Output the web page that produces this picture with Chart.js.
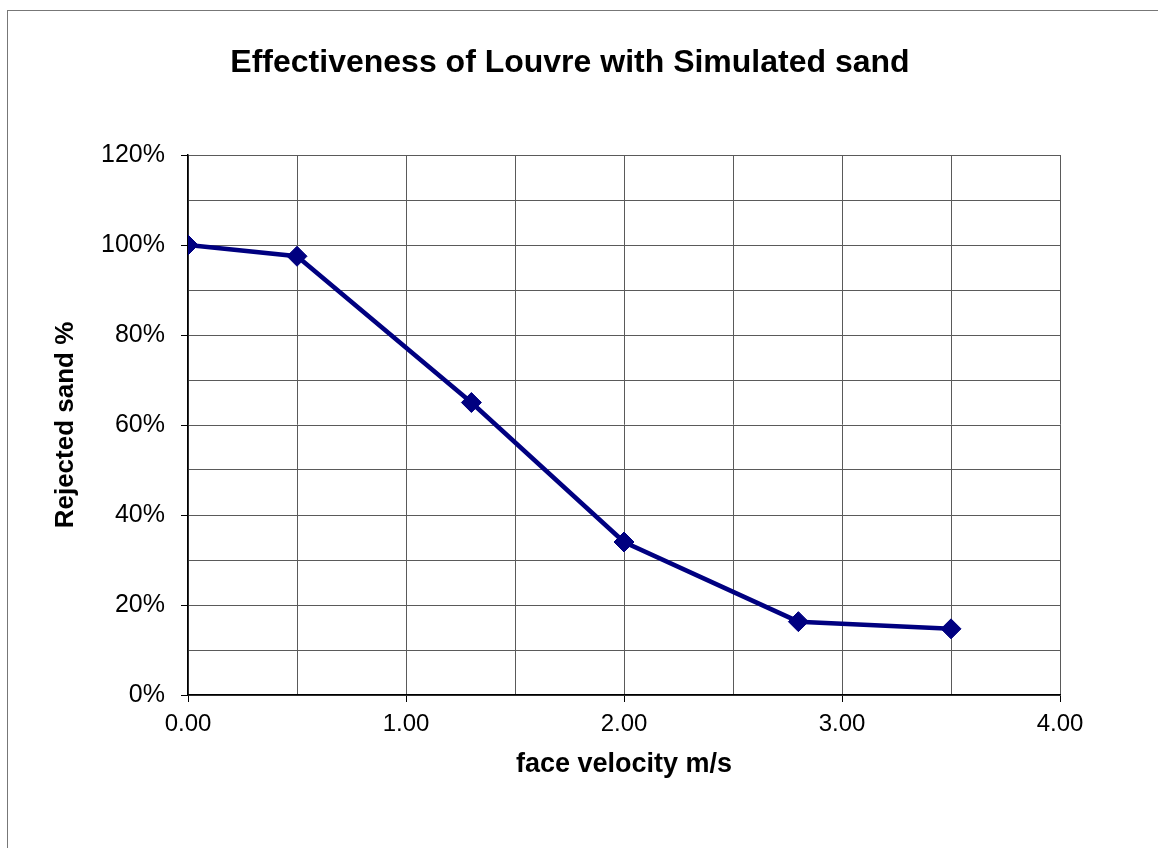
<!DOCTYPE html>
<html>
<head>
<meta charset="utf-8">
<title>Effectiveness of Louvre with Simulated sand</title>
<script src="https://cdn.jsdelivr.net/npm/chart.js@4/dist/chart.umd.min.js"></script>
<style>
  html, body { margin: 0; padding: 0; background: #fff; }
  #wrap { position: relative; width: 1158px; height: 848px; }
</style>
</head>
<body>
<div id="wrap"><canvas id="lineChart"></canvas></div>
<script>
// -- Data --
const chartTitle = "Effectiveness of Louvre with Simulated sand"
const xTitle = "face velocity m/s"
const yTitle = "Rejected sand %"
const velocity = [0.0, 0.5, 1.3, 2.0, 2.8, 3.5]
const rejected = [100, 97.5, 65, 34, 16.3, 14.7]
const xTickLabels = ["0.00", "1.00", "2.00", "3.00", "4.00"]
const yTickLabels = ["0%", "20%", "40%", "60%", "80%", "100%", "120%"]

const navy = "#000080"
const gridGrey = "#5a5a5a"
const fontFamily = "'Liberation Sans', Arial, sans-serif"

// -- Plugins --
// outer frame + title, drawn like the spreadsheet chart
let framePlugin = {
  id: "frame",
  beforeDraw: function(chart) {
    let ctx = chart.ctx
    ctx.save()
    ctx.fillStyle = "#fff"
    ctx.fillRect(0, 0, chart.width, chart.height)
    ctx.strokeStyle = "#777"
    ctx.lineWidth = 1
    ctx.strokeRect(7.5, 10.5, chart.width + 20, chart.height + 20)
    ctx.restore()
  },
  afterDraw: function(chart) {
    let ctx = chart.ctx
    ctx.save()
    ctx.fillStyle = "#000"
    ctx.font = "bold 32px " + fontFamily
    ctx.textAlign = "center"
    ctx.textBaseline = "middle"
    ctx.fillText(chartTitle, 570, 63)
    ctx.restore()
  }
}

let points = velocity.map((v, i) => ({ x: v, y: rejected[i] }))

let ctx = document.getElementById("lineChart")
let chart = new Chart(ctx, {
  type: "line",
  data: {
    datasets: [{
      label: yTitle,
      data: points,
      borderColor: navy,
      backgroundColor: navy,
      borderWidth: 4.5,
      pointStyle: "rectRot",
      pointRadius: 10,
      pointBorderWidth: 1,
      pointBackgroundColor: navy,
      pointBorderColor: navy,
      tension: 0
    }]
  },
  plugins: [framePlugin],
  options: {
    responsive: true,
    maintainAspectRatio: false,
    animation: false,
    events: [],
    layout: {
      padding: { left: 0, top: 155, right: 98, bottom: 0 }
    },
    plugins: {
      legend: { display: false },
      title: { display: false },
      tooltip: { enabled: false }
    },
    scales: {
      x: {
        type: "linear",
        min: 0,
        max: 4,
        afterFit: function(scale) { scale.height = 848 - 695 },
        afterBuildTicks: function(scale) {
          scale.ticks = []
          for (let v = 0; v <= 8; v++) scale.ticks.push({ value: v * 0.5 })
        },
        ticks: {
          autoSkip: false,
          maxRotation: 0,
          padding: 8,
          color: "#000",
          font: { family: fontFamily, size: 24 },
          callback: function(value) {
            let i = Math.round(value)
            return Math.abs(value - i) < 0.001 ? xTickLabels[i] : ""
          }
        },
        grid: {
          color: gridGrey,
          lineWidth: 1,
          tickLength: 7,
          tickColor: function(c) {
            return c.tick && Math.abs(c.tick.value % 1) < 0.001 ? "#000" : "rgba(0,0,0,0)"
          }
        },
        border: { color: "#000", width: 1.5 },
        title: {
          display: true,
          text: xTitle,
          color: "#000",
          font: { family: fontFamily, size: 27, weight: "bold" },
          padding: { top: 0, bottom: 67 }
        }
      },
      y: {
        min: 0,
        max: 120,
        afterFit: function(scale) { scale.width = 188 },
        afterBuildTicks: function(scale) {
          scale.ticks = []
          for (let v = 0; v <= 12; v++) scale.ticks.push({ value: v * 10 })
        },
        ticks: {
          autoSkip: false,
          padding: 16,
          color: "#000",
          font: { family: fontFamily, size: 25 },
          callback: function(value) {
            return value % 20 === 0 ? yTickLabels[value / 20] : ""
          }
        },
        grid: {
          color: gridGrey,
          lineWidth: 1,
          tickLength: 7,
          tickColor: function(c) {
            return c.tick && c.tick.value % 20 === 0 ? "#000" : "rgba(0,0,0,0)"
          }
        },
        border: { color: "#000", width: 1.5 },
        title: {
          display: true,
          text: yTitle,
          color: "#000",
          font: { family: fontFamily, size: 26, weight: "bold" },
          padding: { top: 50, bottom: 0 }
        }
      }
    }
  }
})
</script>
</body>
</html>
